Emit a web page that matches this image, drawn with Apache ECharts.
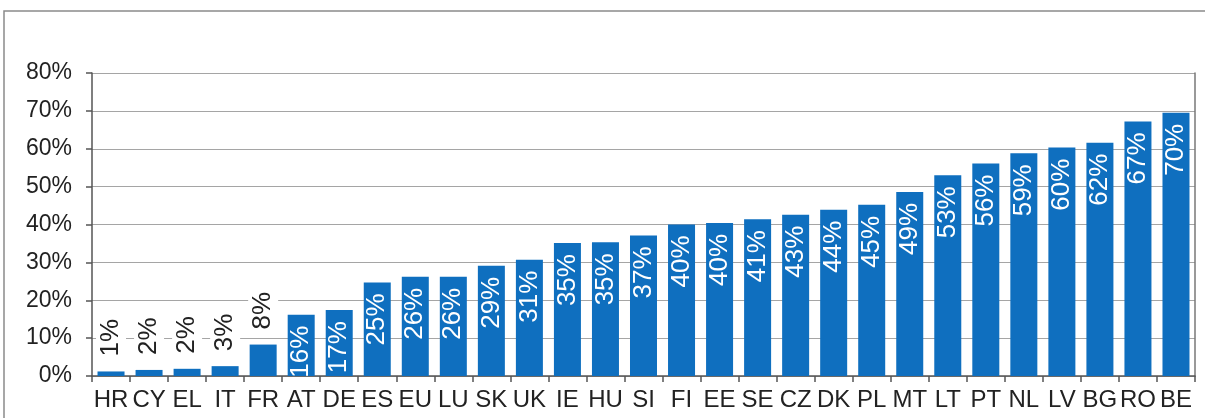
<!DOCTYPE html>
<html>
<head>
<meta charset="utf-8">
<script src="https://cdn.jsdelivr.net/npm/echarts@6/dist/echarts.min.js"></script>
<style>
  html, body { margin: 0; padding: 0; background: #fff; }
  #chart { width: 1205px; height: 418px; }
</style>
</head>
<body>
<div id="chart"></div>
<script>
// 国家代码（按比例升序）
const countries = ['HR', 'CY', 'EL', 'IT', 'FR', 'AT', 'DE', 'ES', 'EU', 'LU', 'SK', 'UK', 'IE', 'HU', 'SI',
    'FI', 'EE', 'SE', 'CZ', 'DK', 'PL', 'MT', 'LT', 'PT', 'NL', 'LV', 'BG', 'RO', 'BE']

// 比例值（%）
const shares = [1.2, 1.6, 1.9, 2.6, 8.3, 16.2, 17.4, 24.7, 26.2, 26.2, 29.1, 30.7, 35.1, 35.3, 37.1,
    40.0, 40.4, 41.4, 42.6, 43.9, 45.2, 48.6, 53.0, 56.1, 58.8, 60.3, 61.6, 67.2, 69.5]

// y 轴刻度
const yTicks = [0, 10, 20, 30, 40, 50, 60, 70, 80]

// 小于这个值的标签放在柱子外面
const OUTSIDE_LIMIT = 10

const BLUE = '#0f6fbf'
const FONT = '"Liberation Sans", Arial, sans-serif'

const chart = echarts.init(document.getElementById('chart'), null, { renderer: 'canvas' })

const barData = shares.map((v) => {
    const outside = v < OUTSIDE_LIMIT
    return {
        value: v,
        label: outside
            ? { position: 'top', align: 'left', color: '#222', distance: 12,
                backgroundColor: '#fff', padding: [2, 3, 2, 3] }
            : { position: 'insideTop', align: 'right', color: '#fff', distance: 11 },
    }
})

chart.setOption({
    animation: false,
    textStyle: { fontFamily: FONT },
    grid: { left: 92, right: 10, top: 73, bottom: 42 },
    graphic: [
        {
            type: 'rect',
            shape: { x: 4, y: 11, width: 1230, height: 430 },
            style: { fill: 'none', stroke: '#8a8a8a', lineWidth: 1.5 },
            silent: true,
        },
    ],
    xAxis: {
        type: 'category',
        data: countries,
        axisLine: { lineStyle: { color: '#555', width: 1.5 } },
        axisTick: { show: true, length: 6, lineStyle: { color: '#555', width: 1.5 } },
        axisLabel: { color: '#222', fontSize: 24, margin: 12, interval: 0, fontFamily: FONT },
    },
    yAxis: [
        {
            type: 'value',
            min: yTicks[0],
            max: yTicks[yTicks.length - 1],
            interval: yTicks[1] - yTicks[0],
            axisLine: { show: true, lineStyle: { color: '#555', width: 1.5 } },
            axisTick: { show: true, length: 6, lineStyle: { color: '#555', width: 1.5 } },
            axisLabel: { color: '#222', fontSize: 23, margin: 20, formatter: '{value}%', fontFamily: FONT },
            splitLine: { lineStyle: { color: '#a5a5a5', width: 1.2 } },
        },
        {
            // 右侧边框线
            type: 'value',
            min: yTicks[0],
            max: yTicks[yTicks.length - 1],
            position: 'right',
            axisLine: { show: true, lineStyle: { color: '#777', width: 1.5 } },
            axisTick: { show: false },
            axisLabel: { show: false },
            splitLine: { show: false },
        },
    ],
    series: [
        {
            type: 'bar',
            data: barData,
            barCategoryGap: '29%',
            itemStyle: { color: BLUE },
            label: {
                show: true,
                rotate: 90,
                verticalAlign: 'middle',
                fontSize: 26,
                fontFamily: FONT,
                formatter: (p) => Math.round(p.value) + '%',
            },
        },
    ],
})

window.addEventListener('resize', () => chart.resize())
</script>
</body>
</html>
